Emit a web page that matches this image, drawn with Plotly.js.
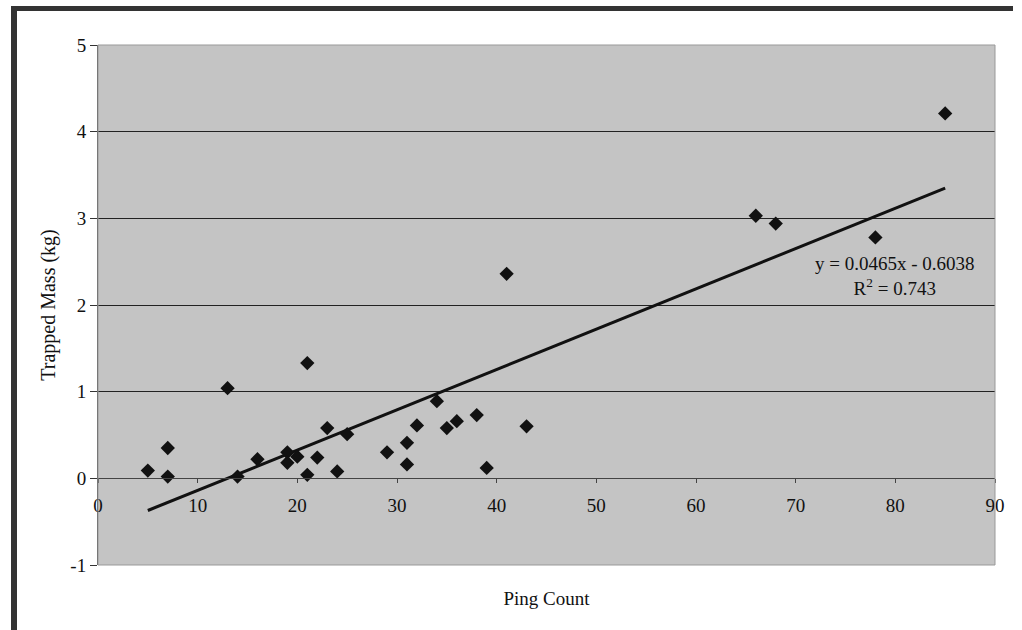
<!DOCTYPE html>
<html>
<head>
<meta charset="utf-8">
<script src="https://cdn.plot.ly/plotly-3.0.1.min.js"></script>
<style>
html,body{margin:0;padding:0;background:#fff;}
#wrap{position:relative;width:1022px;height:630px;overflow:hidden;}
#chart{position:absolute;left:0;top:0;width:1022px;height:630px;}
#bandL{position:absolute;left:11px;top:6px;width:6px;height:630px;background:#333;}
#bandT{position:absolute;left:11px;top:6px;width:1002px;height:5px;background:#333;}
</style>
</head>
<body>
<div id="wrap">
<div id="chart"></div>
<div id="bandL"></div>
<div id="bandT"></div>
</div>
<script>
const pingCount = [5, 7, 7, 13, 14, 16, 19, 19, 20, 21, 21, 22, 23, 24, 25, 29, 31, 31, 32, 34, 35, 36, 38, 39, 41, 43, 66, 68, 78, 85];
const trappedMass = [0.09, 0.35, 0.02, 1.04, 0.02, 0.22, 0.30, 0.18, 0.25, 1.33, 0.04, 0.24, 0.58, 0.08, 0.51, 0.30, 0.41, 0.16, 0.61, 0.89, 0.58, 0.66, 0.73, 0.12, 2.36, 0.60, 3.03, 2.94, 2.78, 4.21];
const trendSlope = 0.0465;
const trendIntercept = -0.6038;
const trendX = [5, 85];
const xTicks = [0, 10, 20, 30, 40, 50, 60, 70, 80, 90];
const yTicks = [-1, 0, 1, 2, 3, 4, 5];

const trendY = trendX.map(x => trendSlope * x + trendIntercept);
const serif = 'Liberation Serif, Times New Roman, serif';

const traces = [
  {x: trendX, y: trendY, mode: 'lines', type: 'scatter', line: {color: '#111', width: 3}, hoverinfo: 'skip', showlegend: false},
  {x: pingCount, y: trappedMass, mode: 'markers', type: 'scatter',
   marker: {symbol: 'diamond', size: 11, color: '#111'}, showlegend: false}
];

const layout = {
  width: 1022, height: 630,
  margin: {l: 98, r: 27, t: 45, b: 65},
  paper_bgcolor: '#ffffff',
  plot_bgcolor: '#c4c4c4',
  font: {family: serif, color: '#111', size: 19},
  xaxis: {
    range: [0, 90], tickvals: xTicks, ticktext: xTicks.map(String),
    anchor: 'free', position: 1/6,
    showline: true, linecolor: '#444', linewidth: 1,
    ticks: 'outside', ticklen: 4, tickcolor: '#444',
    ticklabelstandoff: 6,
    showgrid: false, zeroline: false,
    tickfont: {family: serif, size: 19, color: '#111'},
    title: {text: 'Ping Count', font: {family: serif, size: 19, color: '#111'}, standoff: 76}
  },
  yaxis: {
    range: [-1, 5], tickvals: yTicks, ticktext: yTicks.map(String),
    showline: true, linecolor: '#555', linewidth: 1,
    ticks: 'outside', ticklen: 7, tickcolor: '#333',
    showgrid: true, gridcolor: '#222', gridwidth: 1,
    zeroline: false,
    tickfont: {family: serif, size: 19, color: '#111'},
    title: {text: 'Trapped Mass (kg)', font: {family: serif, size: 20, color: '#111'}, standoff: 9}
  },
  shapes: [
    {type: 'rect', xref: 'paper', yref: 'paper', x0: 0, x1: 1, y0: 0, y1: 1,
     line: {color: '#999', width: 1}, layer: 'above'}
  ],
  annotations: [
    {x: 80, y: 2.33, xref: 'x', yref: 'y', showarrow: false,
     text: 'y = 0.0465x - 0.6038<br>R<sup>2</sup> = 0.743', align: 'center',
     font: {family: serif, size: 19, color: '#111'}}
  ]
};

Plotly.newPlot('chart', traces, layout, {staticPlot: true, displayModeBar: false});
</script>
</body>
</html>
